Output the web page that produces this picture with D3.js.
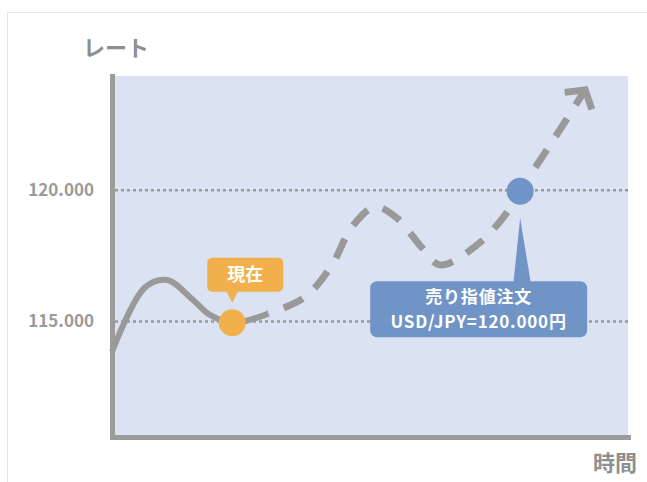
<!DOCTYPE html>
<html>
<head>
<meta charset="utf-8">
<script src="https://cdn.jsdelivr.net/npm/d3@7"></script>
<style>
  body { margin: 0; background: #fff; }
  text { font-family: "Noto Sans CJK JP", "Noto Sans", sans-serif; }
</style>
</head>
<body>
<div id="chart"></div>
<script>
// rate path (time is 0..100 across the plot)
const pastTime = [0, 6.4, 10.7, 15.7, 19, 23.3, 30.2];
const pastRate = [113.84, 116.3, 116.58, 115.82, 115.25, 114.95, 115.29];
const futureTime = [30.2, 37.4, 42.6, 46.5, 51.0, 55.2, 60.1, 63.6, 70.7, 76.2, 79.1, 84.9, 91.7];
const futureRate = [115.29, 115.93, 117.15, 118.6, 119.36, 118.94, 117.8, 117.15, 117.91, 119.06, 120.0, 121.72, 123.82];
const yTicks = [115, 120];
const nowPoint = { t: 23.3, rate: 114.95, label: "現在" };
const orderPoint = { t: 79.1, rate: 120.0, label: ["売り指値注文", "USD/JPY=120.000円"] };

const width = 647;
const height = 482;

let svg = d3.select("#chart")
    .append("svg")
    .attr("width", width)
    .attr("height", height);

// light frame round the picture
svg.append("rect")
    .attr("x", 7.5).attr("y", 12.5)
    .attr("width", 700).attr("height", 500)
    .attr("fill", "none")
    .attr("stroke", "#e6e6e6");

let xScale = d3.scaleLinear().domain([0, 100]).range([112, 628]);
let yScale = d3.scaleLinear().domain([110.6, 124.35]).range([437, 76]);

// plot background
svg.append("rect")
    .attr("x", xScale(0)).attr("y", yScale(124.35))
    .attr("width", xScale(100) - xScale(0))
    .attr("height", yScale(110.6) - yScale(124.35))
    .attr("fill", "#dbe2f1");

// dotted grid at the ticks
svg.selectAll(".grid")
    .data(yTicks)
    .enter()
    .append("line")
    .attr("x1", xScale(0) + 3).attr("x2", xScale(100))
    .attr("y1", d => yScale(d)).attr("y2", d => yScale(d))
    .attr("stroke", "#999")
    .attr("stroke-width", 2.5)
    .attr("stroke-dasharray", "3,3");

let line = d3.line()
    .x(d => xScale(d[0]))
    .y(d => yScale(d[1]))
    .curve(d3.curveCatmullRom);

let past = pastTime.map((t, i) => [t, pastRate[i]]);
let future = futureTime.map((t, i) => [t, futureRate[i]]);

// open arrow head at the end of the forecast
svg.append("defs").append("marker")
    .attr("id", "arrow")
    .attr("markerUnits", "userSpaceOnUse")
    .attr("viewBox", "-24 -24 30 48")
    .attr("markerWidth", 30).attr("markerHeight", 48)
    .attr("refX", 0).attr("refY", 0)
    .attr("orient", "auto")
    .append("path")
    .attr("d", "M-13,-16L0,0L-13,16")
    .attr("fill", "none")
    .attr("stroke", "#999")
    .attr("stroke-width", 7);

svg.append("path")
    .datum(past)
    .attr("d", line)
    .attr("fill", "none")
    .attr("stroke", "#999")
    .attr("stroke-width", 6);

svg.append("path")
    .datum(future)
    .attr("d", line)
    .attr("fill", "none")
    .attr("stroke", "#999")
    .attr("stroke-width", 7)
    .attr("stroke-dasharray", "21,16")
    .attr("stroke-dashoffset", 20)
    .attr("marker-end", "url(#arrow)");

// axes
let yAxis = d3.axisLeft(yScale)
    .tickValues(yTicks)
    .tickSize(0)
    .tickSizeOuter(0)
    .tickPadding(18)
    .tickFormat(d3.format(".3f"));

let xAxis = d3.axisBottom(xScale).tickValues([]).tickSizeOuter(0);

let gy = svg.append("g")
    .attr("transform", "translate(" + xScale(0) + ",0)")
    .call(yAxis);
gy.selectAll("text")
    .attr("font-size", "17px")
    .attr("font-weight", 700)
    .attr("fill", "#9a9a9a")
    .style("font-family", "'Noto Sans CJK JP', sans-serif");

let gx = svg.append("g")
    .attr("transform", "translate(0," + yScale(110.6) + ")")
    .call(xAxis);

svg.selectAll(".domain")
    .attr("stroke", "#9b9b9b")
    .attr("stroke-width", 5)
    .attr("stroke-linecap", "square");

// axis titles
svg.append("text")
    .attr("x", 83).attr("y", 56)
    .attr("font-size", "22px")
    .attr("font-weight", 700)
    .attr("fill", "#8f8f8f")
    .text("レート");

svg.append("text")
    .attr("x", 637).attr("y", 471)
    .attr("font-size", "22px")
    .attr("font-weight", 700)
    .attr("fill", "#8f8f8f")
    .style("text-anchor", "end")
    .text("時間");

// "now" callout
let nx = xScale(nowPoint.t), ny = yScale(nowPoint.rate);
svg.append("rect")
    .attr("x", nx - 25).attr("y", ny - 65)
    .attr("width", 76).attr("height", 34)
    .attr("rx", 5)
    .attr("fill", "#f1b04b");
svg.append("path")
    .attr("d", `M${nx - 6},${ny - 32}L${nx},${ny - 20}L${nx + 6},${ny - 32}Z`)
    .attr("fill", "#f1b04b");
svg.append("text")
    .attr("x", nx + 13).attr("y", ny - 48)
    .attr("dy", "0.36em")
    .attr("font-size", "18px")
    .attr("font-weight", 700)
    .attr("fill", "#fff")
    .style("text-anchor", "middle")
    .text(nowPoint.label);

// limit order callout
let ox = xScale(orderPoint.t), oy = yScale(orderPoint.rate);
svg.append("path")
    .attr("d", `M${ox},${oy + 28}L${ox + 11},${oy + 95}L${ox - 7},${oy + 95}Z`)
    .attr("fill", "#7194c7");
svg.append("rect")
    .attr("x", ox - 150).attr("y", oy + 91)
    .attr("width", 217).attr("height", 56)
    .attr("rx", 7)
    .attr("fill", "#7194c7");
svg.selectAll(".order-label")
    .data(orderPoint.label)
    .enter()
    .append("text")
    .attr("x", ox - 41.5)
    .attr("y", (d, i) => oy + 107 + i * 25)
    .attr("dy", "0.36em")
    .attr("font-size", "17px")
    .attr("font-weight", 700)
    .attr("letter-spacing", "0.8px")
    .attr("fill", "#fff")
    .style("text-anchor", "middle")
    .text(d => d);

// points
svg.append("circle")
    .attr("cx", nx).attr("cy", ny).attr("r", 13.5)
    .attr("fill", "#f1b04b");
svg.append("circle")
    .attr("cx", ox).attr("cy", oy + 1).attr("r", 13.5)
    .attr("fill", "#7194c7");
</script>
</body>
</html>
